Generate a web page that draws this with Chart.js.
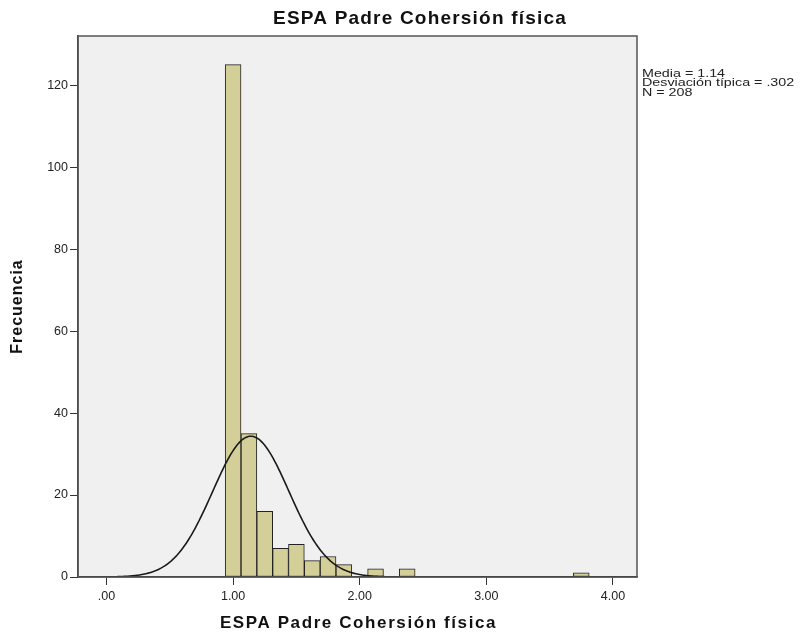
<!DOCTYPE html>
<html>
<head>
<meta charset="utf-8">
<title>ESPA Padre Cohersión física</title>
<script src="https://cdn.jsdelivr.net/npm/chart.js@4/dist/chart.umd.min.js"></script>
<style>
  body { margin: 0; background: #ffffff; }
  #chart { display: block; }
</style>
</head>
<body>
<canvas id="chart" width="807" height="638"></canvas>
<script>
// histogram bins (centre of each bin) and their frequencies
var binCenters = [1.0, 1.125, 1.25, 1.375, 1.5, 1.625, 1.75, 1.875, 2.125, 2.375, 3.75];
var frequencies = [125, 35, 16, 7, 8, 4, 5, 3, 2, 2, 1];
var binWidth = 0.125;

// summary statistics shown next to the plot
var media = 1.14;
var desviacion = 0.302;
var n = 208;

var xTicks = [0, 1, 2, 3, 4];
var yTicks = [0, 20, 40, 60, 80, 100, 120];

var titulo = 'ESPA Padre Cohersión física';
var tituloY = 'Frecuencia';
var statsLines = [
    'Media = ' + media.toFixed(2),
    'Desviación típica = ' + desviacion.toFixed(3).replace(/^0/, ''),
    'N = ' + n
];

var fontFamily = '"Liberation Sans", Arial, sans-serif';

// normal curve scaled to the histogram: N * bin width * pdf
function normalCurve(from, to, step) {
    var pts = [];
    var k = n * binWidth / (desviacion * Math.sqrt(2 * Math.PI));
    for (var x = from; x <= to + 1e-9; x += step) {
        var z = (x - media) / desviacion;
        pts.push({ x: x, y: k * Math.exp(-0.5 * z * z) });
    }
    return pts;
}

var barData = binCenters.map(function (c, i) {
    return { x: c, y: frequencies[i] };
});

function fmtX(v) {
    var s = v.toFixed(2);
    return s.charAt(0) === '0' ? s.substring(1) : s;
}

function spacedText(ctx, text, x, y, spacing) {
    ctx.letterSpacing = spacing + 'px';
    ctx.fillText(text, x, y);
    ctx.letterSpacing = '0px';
}

// grey plot background and frame, titles and statistics text
var decorPlugin = {
    id: 'decor',
    beforeDraw: function (chart) {
        var a = chart.chartArea;
        var ctx = chart.ctx;
        ctx.save();
        ctx.fillStyle = '#f0f0f0';
        ctx.fillRect(a.left, a.top, a.right - a.left, a.bottom - a.top);
        ctx.restore();
    },
    afterDraw: function (chart) {
        var a = chart.chartArea;
        var ctx = chart.ctx;
        ctx.save();
        ctx.strokeStyle = '#555';
        ctx.lineWidth = 1.5;
        ctx.strokeRect(a.left, a.top, a.right - a.left, a.bottom - a.top);

        ctx.fillStyle = '#111';
        ctx.textAlign = 'center';
        ctx.textBaseline = 'middle';

        // chart title
        ctx.font = 'bold 19px ' + fontFamily;
        spacedText(ctx, titulo, 420, 19, 1.2);

        // x axis title
        ctx.font = 'bold 17px ' + fontFamily;
        spacedText(ctx, titulo, (a.left + a.right) / 2 + 1, 623, 1.6);

        // y axis title
        ctx.save();
        ctx.translate(18, (a.top + a.bottom) / 2);
        ctx.rotate(-Math.PI / 2);
        ctx.font = 'bold 16px ' + fontFamily;
        spacedText(ctx, tituloY, 0, 0, 1);
        ctx.restore();

        // statistics block, wide and tightly stacked
        ctx.font = '11px ' + fontFamily;
        ctx.textAlign = 'left';
        ctx.fillStyle = '#222';
        for (var i = 0; i < statsLines.length; i++) {
            ctx.save();
            ctx.translate(a.right + 5, 74 + i * 9.4);
            ctx.scale(1.3, 1);
            ctx.fillText(statsLines[i], 0, 0);
            ctx.restore();
        }
        ctx.restore();
    }
};

var ctx = document.getElementById('chart').getContext('2d');
var chart = new Chart(ctx, {
    type: 'bar',
    data: {
        datasets: [
            {
                type: 'line',
                data: normalCurve(0, 4.19, 0.01),
                borderColor: '#1a1a1a',
                borderWidth: 1.6,
                pointRadius: 0,
                fill: false,
                order: 0
            },
            {
                type: 'bar',
                data: barData,
                backgroundColor: 'rgb(212,207,152)',
                borderColor: '#222',
                borderWidth: 1,
                borderSkipped: false,
                barPercentage: 1,
                categoryPercentage: 1,
                order: 1
            }
        ]
    },
    options: {
        responsive: false,
        animation: false,
        devicePixelRatio: 1,
        layout: { padding: { top: 36, right: 170, left: 0, bottom: 0 } },
        plugins: {
            legend: { display: false },
            tooltip: { enabled: false }
        },
        scales: {
            x: {
                type: 'linear',
                offset: false,
                min: -0.225,
                max: 4.19,
                afterFit: function (scale) { scale.height = 61; },
                afterBuildTicks: function (scale) {
                    scale.ticks = xTicks.map(function (v) { return { value: v }; });
                },
                grid: {
                    offset: false,
                    drawOnChartArea: false,
                    drawTicks: true,
                    tickLength: 8,
                    tickColor: '#333',
                    tickWidth: 1
                },
                border: { color: '#333', width: 1.5 },
                ticks: {
                    color: '#222',
                    font: { family: fontFamily, size: 12.5 },
                    padding: 4,
                    maxRotation: 0,
                    callback: function (v) { return fmtX(v); }
                }
            },
            y: {
                min: 0,
                max: 132,
                afterFit: function (scale) { scale.width = 78; },
                afterBuildTicks: function (scale) {
                    scale.ticks = yTicks.map(function (v) { return { value: v }; });
                },
                grid: {
                    drawOnChartArea: false,
                    drawTicks: true,
                    tickLength: 8,
                    tickColor: '#333',
                    tickWidth: 1
                },
                border: { color: '#333', width: 1.5 },
                ticks: {
                    color: '#222',
                    font: { family: fontFamily, size: 12.5 },
                    padding: 2
                }
            }
        }
    },
    plugins: [decorPlugin]
});
</script>
</body>
</html>
